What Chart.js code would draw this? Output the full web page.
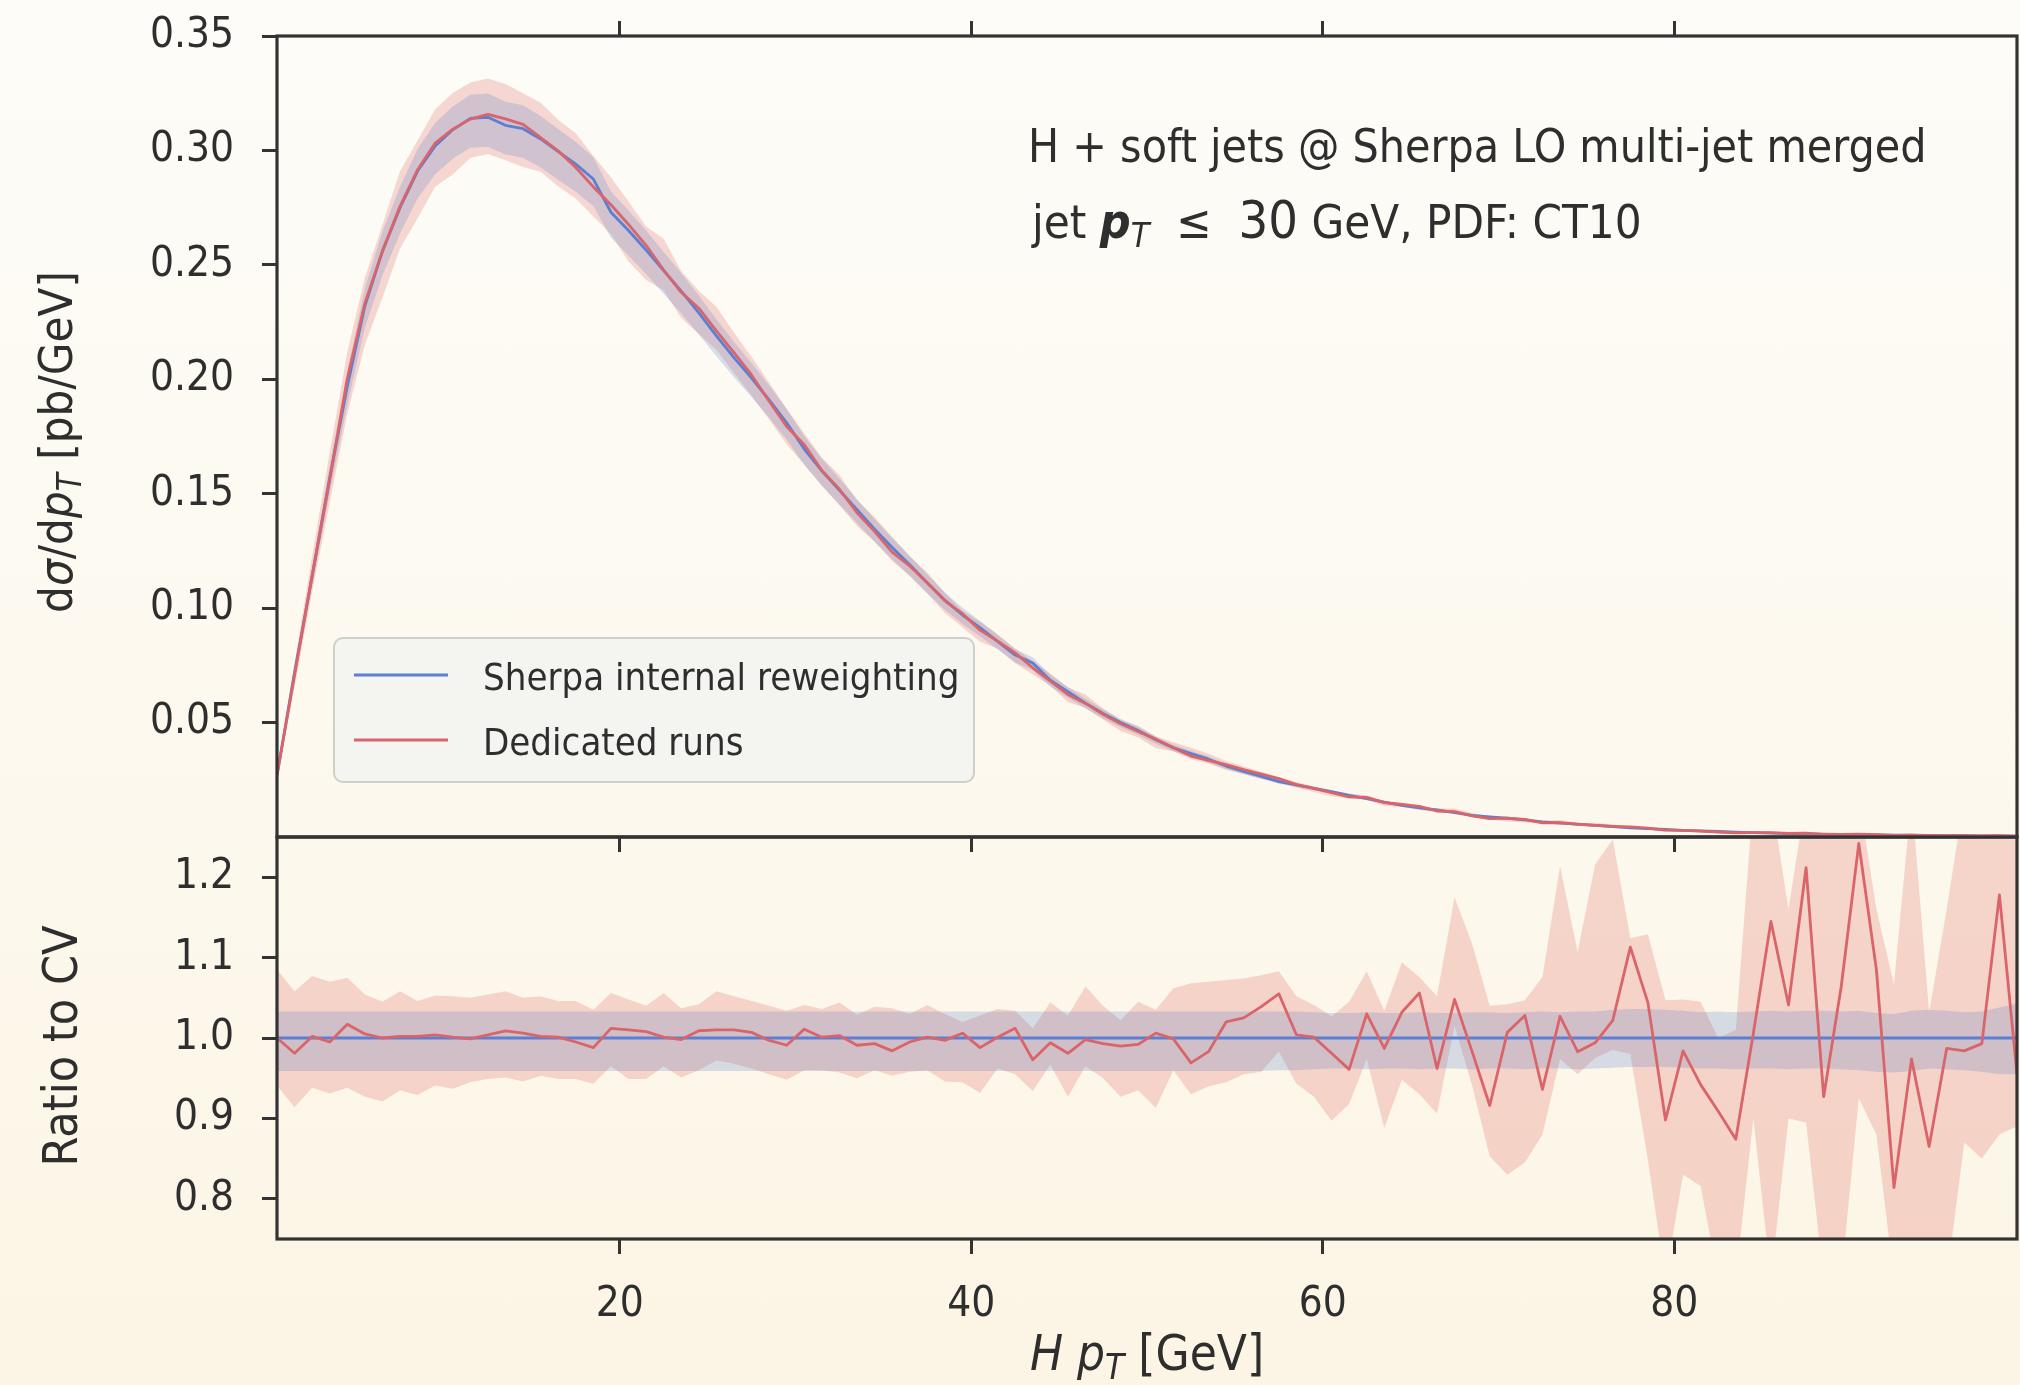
<!DOCTYPE html>
<html>
<head>
<meta charset="utf-8">
<script src="https://cdn.jsdelivr.net/npm/chart.js@4.4.0/dist/chart.umd.min.js"></script>
<style>
  html, body { margin: 0; padding: 0; }
  body {
    width: 2020px; height: 1385px; overflow: hidden; position: relative;
    background: linear-gradient(to bottom, #fdfcf8 0%, #fdf9ef 50%, #fcf5e5 100%);
  }
  canvas { position: absolute; left: 0; }
  #ratio { top: 760px; }
  #main { top: -60px; }
</style>
</head>
<body>
<canvas id="ratio" width="2020" height="625" style="width:2020px;height:625px"></canvas>
<canvas id="main" width="2020" height="1000" style="width:2020px;height:1000px"></canvas>
<script>
// ---------------- data ----------------
const pT = [0.5,1.5,2.5,3.5,4.5,5.5,6.5,7.5,8.5,9.5,
  10.5,11.5,12.5,13.5,14.5,15.5,16.5,17.5,18.5,19.5,
  20.5,21.5,22.5,23.5,24.5,25.5,26.5,27.5,28.5,29.5,
  30.5,31.5,32.5,33.5,34.5,35.5,36.5,37.5,38.5,39.5,
  40.5,41.5,42.5,43.5,44.5,45.5,46.5,47.5,48.5,49.5,
  50.5,51.5,52.5,53.5,54.5,55.5,56.5,57.5,58.5,59.5,
  60.5,61.5,62.5,63.5,64.5,65.5,66.5,67.5,68.5,69.5,
  70.5,71.5,72.5,73.5,74.5,75.5,76.5,77.5,78.5,79.5,
  80.5,81.5,82.5,83.5,84.5,85.5,86.5,87.5,88.5,89.5,
  90.5,91.5,92.5,93.5,94.5,95.5,96.5,97.5,98.5,99.5];

// Sherpa internal reweighting: central value dsigma/dpT [pb/GeV]
const sherpaCV = [0.027,0.072,0.114,0.157,0.197,0.232,0.256,0.275,0.291,0.302,
  0.309,0.314,0.3145,0.311,0.3095,0.305,0.2995,0.294,0.2875,0.273,
  0.265,0.2565,0.2475,0.2385,0.229,0.219,0.2095,0.2005,0.191,0.181,
  0.1695,0.160,0.1515,0.143,0.1345,0.1265,0.119,0.111,0.1035,0.097,
  0.0915,0.0855,0.0795,0.076,0.0685,0.0635,0.0585,0.054,0.050,0.0465,
  0.0425,0.039,0.0365,0.034,0.031,0.0287,0.0265,0.0242,0.0228,0.0212,
  0.0198,0.0182,0.0168,0.0152,0.0138,0.0127,0.0118,0.0106,0.0094,0.0088,
  0.0082,0.0075,0.0066,0.0061,0.0056,0.0051,0.0045,0.0040,0.0037,0.0033,
  0.0029,0.0027,0.0024,0.0021,0.0019,0.0017,0.0015,0.0014,0.0012,0.0011,
  0.0010,0.0009,0.0008,0.0008,0.0007,0.0006,0.0006,0.0005,0.0005,0.0004];

// Sherpa internal reweighting: envelope relative to CV
const sherpaUp = [1.033,1.033,1.033,1.033,1.033,1.033,1.033,1.033,1.033,1.033,
  1.033,1.033,1.033,1.033,1.033,1.033,1.033,1.033,1.033,1.033,
  1.033,1.033,1.033,1.033,1.033,1.033,1.033,1.033,1.033,1.033,
  1.033,1.033,1.033,1.033,1.033,1.033,1.033,1.033,1.033,1.033,
  1.033,1.033,1.033,1.033,1.033,1.033,1.033,1.033,1.033,1.033,
  1.033,1.033,1.033,1.033,1.033,1.033,1.033,1.033,1.033,1.032,
  1.031,1.031,1.032,1.031,1.031,1.032,1.031,1.031,1.032,1.032,
  1.031,1.032,1.033,1.032,1.033,1.033,1.035,1.036,1.036,1.035,
  1.034,1.032,1.033,1.032,1.033,1.034,1.033,1.034,1.034,1.033,
  1.034,1.031,1.030,1.034,1.035,1.034,1.032,1.033,1.038,1.043];
const sherpaLo = [0.959,0.959,0.959,0.959,0.959,0.959,0.959,0.959,0.959,0.959,
  0.959,0.959,0.959,0.959,0.959,0.959,0.959,0.959,0.959,0.959,
  0.959,0.959,0.959,0.959,0.959,0.959,0.959,0.959,0.959,0.959,
  0.959,0.959,0.959,0.959,0.959,0.959,0.959,0.959,0.959,0.959,
  0.959,0.959,0.959,0.959,0.959,0.959,0.959,0.959,0.959,0.959,
  0.959,0.959,0.959,0.959,0.959,0.959,0.959,0.960,0.960,0.961,
  0.962,0.962,0.961,0.962,0.962,0.961,0.962,0.962,0.961,0.962,
  0.962,0.961,0.962,0.962,0.961,0.962,0.963,0.964,0.964,0.964,
  0.963,0.962,0.962,0.961,0.962,0.962,0.961,0.962,0.962,0.961,
  0.960,0.958,0.957,0.959,0.962,0.961,0.960,0.958,0.955,0.955];

// Dedicated runs: ratio of central value to CV
const dedicatedRatio = [1.000,0.981,1.002,0.995,1.017,1.005,1.000,1.002,1.002,1.004,
  1.001,0.999,1.004,1.009,1.006,1.002,1.001,0.995,0.988,1.012,
  1.010,1.008,1.001,0.998,1.009,1.010,1.010,1.007,0.997,0.991,
  1.011,1.001,1.003,0.991,0.993,0.984,0.995,1.001,0.997,1.006,
  0.988,1.001,1.012,0.973,0.994,0.981,0.998,0.993,0.990,0.992,
  1.006,0.999,0.969,0.983,1.020,1.025,1.039,1.055,1.004,1.001,
  0.981,0.961,1.030,0.987,1.032,1.056,0.962,1.048,0.983,0.916,
  1.007,1.028,0.936,1.027,0.983,0.994,1.022,1.113,1.044,0.898,
  0.984,0.942,0.909,0.874,1.006,1.145,1.041,1.212,0.927,1.064,
  1.242,1.085,0.814,0.974,0.865,0.987,0.984,0.993,1.178,0.955];

// Dedicated runs: envelope relative to CV
const dedicatedUp = [1.085,1.058,1.077,1.070,1.075,1.054,1.045,1.058,1.046,1.053,
  1.052,1.050,1.054,1.058,1.050,1.052,1.046,1.046,1.035,1.056,
  1.048,1.040,1.056,1.037,1.042,1.058,1.052,1.046,1.040,1.034,
  1.041,1.036,1.044,1.029,1.039,1.037,1.030,1.041,1.030,1.020,
  1.028,1.036,1.034,1.012,1.044,1.028,1.064,1.040,1.022,1.045,
  1.035,1.062,1.068,1.070,1.072,1.074,1.078,1.083,1.052,1.041,
  1.027,1.045,1.083,1.034,1.094,1.076,1.052,1.175,1.117,1.040,
  1.042,1.047,1.076,1.214,1.107,1.216,1.247,1.124,1.129,1.047,
  1.048,1.045,1.000,1.010,1.300,1.300,1.160,1.300,1.300,1.300,
  1.300,1.160,1.067,1.300,1.032,1.160,1.300,1.300,1.300,1.300];
const dedicatedLo = [0.941,0.914,0.938,0.931,0.938,0.927,0.921,0.935,0.929,0.941,
  0.937,0.945,0.949,0.951,0.946,0.953,0.949,0.949,0.943,0.965,
  0.949,0.949,0.965,0.951,0.960,0.972,0.968,0.962,0.955,0.948,
  0.960,0.960,0.957,0.950,0.960,0.953,0.958,0.960,0.946,0.945,
  0.932,0.962,0.955,0.934,0.967,0.927,0.965,0.950,0.927,0.935,
  0.913,0.960,0.930,0.940,0.945,0.955,0.958,0.983,0.943,0.927,
  0.897,0.918,0.974,0.888,0.948,0.930,0.906,1.015,0.941,0.853,
  0.830,0.845,0.880,0.974,0.955,0.975,0.985,0.980,0.848,0.700,
  0.830,0.816,0.700,0.700,0.900,0.700,0.900,0.895,0.700,0.700,
  0.925,0.880,0.700,0.700,0.700,0.700,0.870,0.850,0.880,0.890];

const xTicks = [20, 40, 60, 80];
const mainYTicks = [0.05, 0.10, 0.15, 0.20, 0.25, 0.30, 0.35];
const ratioYTicks = [0.8, 0.9, 1.0, 1.1, 1.2];
const seriesNames = ['Sherpa internal reweighting', 'Dedicated runs'];

// ---------------- styling ----------------
const FONT = "'Liberation Sans Narrow', 'DejaVu Sans Condensed', 'Roboto Condensed', Roboto, sans-serif";
const TXT = '#2e2e2e';
const AX = '#333333';
const BLUE = '#5a7fd4';
const RED = '#d9646a';
const RED_BAND = 'rgba(228,120,110,0.28)';
const BLUE_BAND = 'rgba(60,110,200,0.20)';
const MAIN_TOP = -60, RATIO_TOP = 760;

Chart.defaults.font.family = FONT;

const xy = (ys) => pT.map((x, i) => ({ x: x, y: ys[i] }));
const times = (a, b) => a.map((v, i) => v * b[i]);
const ones = pT.map(() => 1);

function band(data, color, order, fill) {
  return { data: xy(data), fill: fill ? '+1' : false, backgroundColor: color,
           borderColor: 'rgba(0,0,0,0)', borderWidth: 0, pointRadius: 0, order: order };
}
function line(data, color, order) {
  return { data: xy(data), fill: false, borderColor: color, borderWidth: 2.8,
           pointRadius: 0, order: order, borderJoinStyle: 'round' };
}

function fontStr(s) {
  return (s.style || 'normal') + ' ' + (s.weight || 'normal') + ' ' + s.size + 'px ' + FONT;
}
function drawRich(ctx, x, y, segs, align) {
  let total = 0;
  segs.forEach(s => { ctx.font = fontStr(s); s.w = ctx.measureText(s.text).width; total += s.w; });
  let cx = align === 'center' ? x - total / 2 : x;
  ctx.textAlign = 'left';
  segs.forEach(s => { ctx.font = fontStr(s); ctx.fillText(s.text, cx, y + (s.dy || 0)); cx += s.w; });
}

const framePlugin = {
  id: 'frame',
  afterDraw(chart) {
    const { ctx, chartArea: a } = chart;
    ctx.save();
    ctx.strokeStyle = AX; ctx.lineWidth = 3.2;
    ctx.strokeRect(a.left, a.top, a.right - a.left, a.bottom - a.top);
    ctx.restore();
  }
};

const FS = 42;
function xScale(pos, h, showLabels) {
  return {
    type: 'linear', position: pos, min: 0.5, max: 99.5,
    afterBuildTicks: s => { s.ticks = xTicks.map(v => ({ value: v })); },
    afterFit: s => { s.height = h; },
    ticks: { display: showLabels, color: TXT, padding: 26, font: { size: FS, lineHeight: 1.2 },
             maxRotation: 0, callback: v => String(v) },
    grid: { drawOnChartArea: false, drawTicks: true, tickLength: 15, lineWidth: 3, color: AX, tickColor: AX },
    border: { display: false }
  };
}
function yScale(min, max, tickVals, digits) {
  return {
    type: 'linear', position: 'left', min: min, max: max,
    afterBuildTicks: s => { s.ticks = tickVals.map(v => ({ value: v })); },
    afterFit: s => { s.width = 277; },
    ticks: { color: TXT, padding: 28, font: { size: FS, lineHeight: 1.2 }, callback: v => v.toFixed(digits) },
    grid: { drawOnChartArea: false, drawTicks: true, tickLength: 15, lineWidth: 3, color: AX, tickColor: AX },
    border: { display: false }
  };
}

// ---------------- main panel ----------------
const mainDecor = {
  id: 'mainDecor',
  afterDraw(chart) {
    const ctx = chart.ctx;
    const oy = -MAIN_TOP;
    ctx.save();
    ctx.fillStyle = TXT;
    ctx.textBaseline = 'alphabetic';
    // annotation
    drawRich(ctx, 1028, 162 + oy, [{ text: 'H + soft jets @ Sherpa LO multi-jet merged', size: 46 }], 'left');
    drawRich(ctx, 1032, 238 + oy, [
      { text: 'jet ', size: 47 },
      { text: 'p', size: 48, style: 'italic', weight: 'bold' },
      { text: 'T', size: 34, style: 'italic', dy: 9 },
      { text: '  \u2264  ', size: 47 },
      { text: '30', size: 52 },
      { text: ' GeV, PDF: CT10', size: 47 }
    ], 'left');
    // y title
    ctx.save();
    ctx.translate(72, 442 + oy);
    ctx.rotate(-Math.PI / 2);
    drawRich(ctx, 0, 0, [
      { text: 'd', size: 47 }, { text: '\u03C3', size: 47, style: 'italic' },
      { text: '/d', size: 47 }, { text: 'p', size: 47, style: 'italic' },
      { text: 'T', size: 33, style: 'italic', dy: 9 },
      { text: ' [pb/GeV]', size: 47 }
    ], 'center');
    ctx.restore();
    // legend box
    const lx = 334, ly = 638 + oy, lw = 640, lh = 144;
    ctx.beginPath();
    ctx.roundRect(lx, ly, lw, lh, 9);
    ctx.fillStyle = '#f4f4f1';
    ctx.fill();
    ctx.lineWidth = 2; ctx.strokeStyle = '#cfcfca';
    ctx.stroke();
    const rows = [{ c: BLUE, y: 675 }, { c: RED, y: 740 }];
    rows.forEach((r, i) => {
      ctx.beginPath();
      ctx.moveTo(354, r.y + oy); ctx.lineTo(448, r.y + oy);
      ctx.strokeStyle = r.c; ctx.lineWidth = 3; ctx.stroke();
      ctx.fillStyle = TXT;
      drawRich(ctx, 483, r.y + 15 + oy, [{ text: seriesNames[i], size: 38 }], 'left');
    });
    ctx.restore();
  }
};

new Chart(document.getElementById('main'), {
  type: 'line',
  data: { datasets: [
    band(times(sherpaCV, dedicatedUp), RED_BAND, 5, true),
    band(times(sherpaCV, dedicatedLo), RED_BAND, 5, false),
    band(times(sherpaCV, sherpaUp), BLUE_BAND, 4, true),
    band(times(sherpaCV, sherpaLo), BLUE_BAND, 4, false),
    Object.assign(line(sherpaCV, BLUE, 2), { label: seriesNames[0] }),
    Object.assign(line(times(sherpaCV, dedicatedRatio), RED, 1), { label: seriesNames[1] })
  ] },
  options: {
    responsive: false, animation: false, devicePixelRatio: 1,
    layout: { padding: { left: 0, right: 3, top: 0, bottom: 0 } },
    plugins: { legend: { display: false }, tooltip: { enabled: false }, filler: { propagate: false } },
    elements: { line: { tension: 0 } },
    scales: {
      x: xScale('bottom', 103, false),
      xTop: xScale('top', 96, false),
      y: yScale(0, 0.35, mainYTicks, 2)
    }
  },
  plugins: [framePlugin, mainDecor]
});

// ---------------- ratio panel ----------------
const ratioDecor = {
  id: 'ratioDecor',
  afterDraw(chart) {
    const ctx = chart.ctx;
    const oy = -RATIO_TOP;
    ctx.save();
    ctx.fillStyle = TXT;
    ctx.textBaseline = 'alphabetic';
    ctx.save();
    ctx.translate(77, 1046 + oy);
    ctx.rotate(-Math.PI / 2);
    drawRich(ctx, 0, 0, [{ text: 'Ratio to CV', size: 48 }], 'center');
    ctx.restore();
    drawRich(ctx, 1147, 1370 + oy, [
      { text: 'H', size: 49, style: 'italic' },
      { text: ' ', size: 49 },
      { text: 'p', size: 49, style: 'italic' },
      { text: 'T', size: 35, style: 'italic', dy: 9 },
      { text: ' [GeV]', size: 49 }
    ], 'center');
    ctx.restore();
  }
};

new Chart(document.getElementById('ratio'), {
  type: 'line',
  data: { datasets: [
    band(dedicatedUp, RED_BAND, 5, true),
    band(dedicatedLo, RED_BAND, 5, false),
    band(sherpaUp, BLUE_BAND, 4, true),
    band(sherpaLo, BLUE_BAND, 4, false),
    line(ones, BLUE, 2),
    line(dedicatedRatio, RED, 1)
  ] },
  options: {
    responsive: false, animation: false, devicePixelRatio: 1,
    layout: { padding: { left: 0, right: 3, top: 77, bottom: 0 } },
    plugins: { legend: { display: false }, tooltip: { enabled: false }, filler: { propagate: false } },
    elements: { line: { tension: 0 } },
    scales: {
      x: xScale('bottom', 146, true),
      y: yScale(0.75, 1.25, ratioYTicks, 1)
    }
  },
  plugins: [framePlugin, ratioDecor]
});
</script>
</body>
</html>
